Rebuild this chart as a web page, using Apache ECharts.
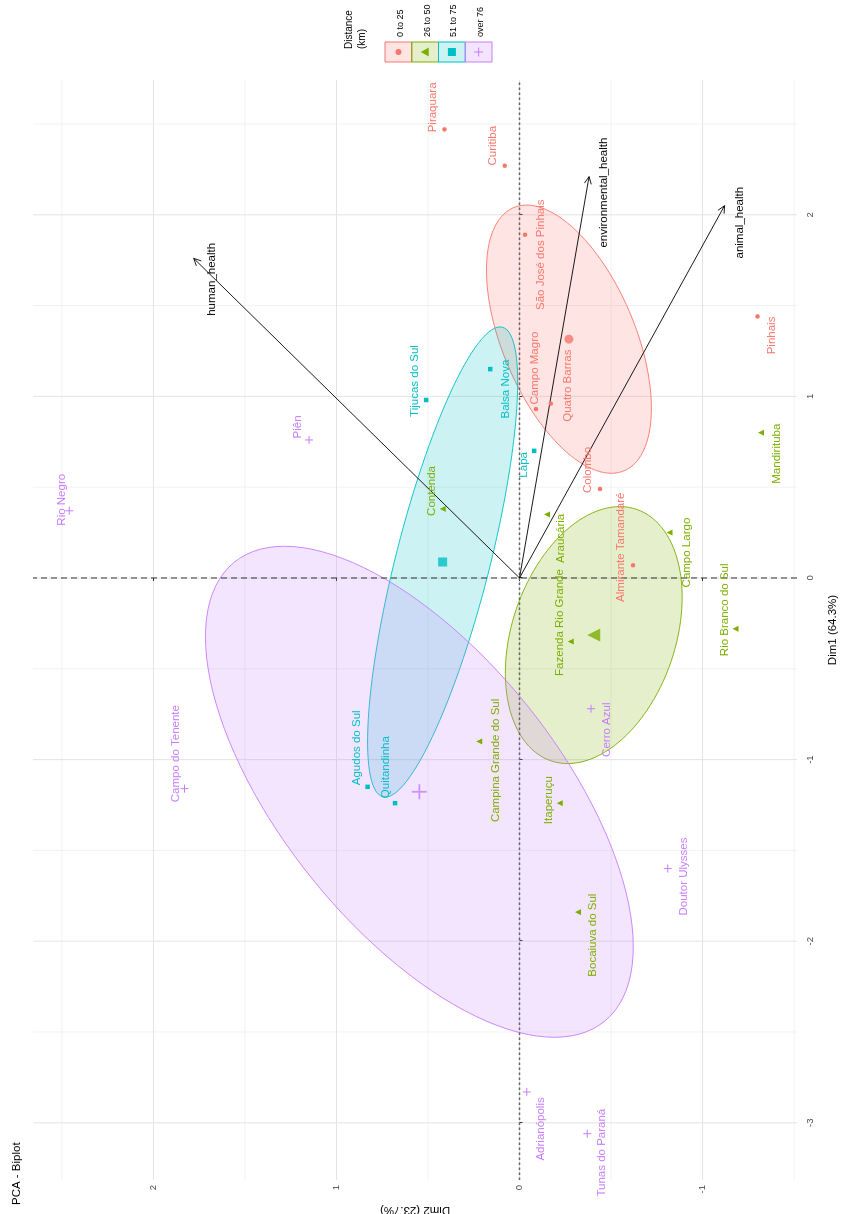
<!DOCTYPE html>
<html>
<head>
<meta charset="utf-8">
<title>PCA - Biplot</title>
<script src="https://cdn.jsdelivr.net/npm/echarts@6/dist/echarts.min.js"></script>
<style>
  html, body { margin: 0; padding: 0; width: 843px; height: 1214px; overflow: hidden; background: #fff; }
  /* the plot is laid out landscape and turned a quarter turn counter-clockwise */
  #chart { position: absolute; left: 0; top: 1214px; width: 1214px; height: 843px;
           transform-origin: 0 0; transform: rotate(-90deg); }
</style>
</head>
<body>
<div id="chart"></div>
<script>
// ---------- data ----------
const distanceClasses = ['0 to 25', '26 to 50', '51 to 75', 'over 76'];

const names0to25 = ['Piraquara', 'Curitiba', 'São José dos Pinhais', 'Pinhais', 'Campo Magro', 'Quatro Barras', 'Colombo', 'Almirante Tamandaré'];
const dim1_0to25 = [2.47, 2.27, 1.89, 1.44, 0.93, 0.96, 0.49, 0.07];
const dim2_0to25 = [0.41, 0.08, -0.03, -1.30, -0.09, -0.17, -0.44, -0.62];

const names26to50 = ['Contenda', 'Araucária', 'Fazenda Rio Grande', 'Campo Largo', 'Rio Branco do Sul', 'Mandirituba', 'Campina Grande do Sul', 'Itaperuçu', 'Bocaiuva do Sul'];
const dim1_26to50 = [0.38, 0.35, -0.35, 0.25, -0.28, 0.80, -0.90, -1.24, -1.84];
const dim2_26to50 = [0.42, -0.15, -0.28, -0.82, -1.18, -1.32, 0.22, -0.22, -0.32];

const names51to75 = ['Tijucas do Sul', 'Balsa Nova', 'Lapa', 'Agudos do Sul', 'Quitandinha'];
const dim1_51to75 = [0.98, 1.15, 0.70, -1.15, -1.24];
const dim2_51to75 = [0.51, 0.16, -0.08, 0.83, 0.68];

const namesOver76 = ['Rio Negro', 'Piên', 'Campo do Tenente', 'Cerro Azul', 'Doutor Ulysses', 'Adrianópolis', 'Tunas do Paraná'];
const dim1_over76 = [0.37, 0.76, -1.16, -0.72, -1.60, -2.83, -3.06];
const dim2_over76 = [2.46, 1.15, 1.83, -0.39, -0.81, -0.04, -0.37];

const variableNames = ['human_health', 'environmental_health', 'animal_health'];
const variableDim1 = [1.76, 2.21, 2.05];
const variableDim2 = [1.78, -0.38, -1.12];

const dim1Ticks = [-3, -2, -1, 0, 1, 2];
const dim2Ticks = [-1, 0, 1, 2];
const dim1MinorTicks = [-2.5, -1.5, -0.5, 0.5, 1.5, 2.5];
const dim2MinorTicks = [-1.5, -0.5, 0.5, 1.5, 2.5];

// ---------- styling ----------
const FONT = '"Liberation Sans", Arial, sans-serif';
const palette = ['#F8766D', '#7CAE00', '#00BFC4', '#C77CFF'];
const paleFill = ['rgba(248,118,109,0.2)', 'rgba(124,174,0,0.2)', 'rgba(0,191,196,0.2)', 'rgba(199,124,255,0.2)'];
const PLUS = 'path://M-0.12,-1H0.12V-0.12H1V0.12H0.12V1H-0.12V0.12H-1V-0.12H-0.12Z';
const pointSymbol = ['circle', 'triangle', 'rect', PLUS];
const pointSize = [4.5, 6, 4.5, 8];
const meanSize = [9, 13, 9, 15];
const dim1Range = [-3.315, 2.742];
const dim2Range = [-1.516, 2.658];

// label nudges in pixels (text placed clear of its point)
const labelNudge = {
  'Piraquara': [22, -12], 'Curitiba': [20, -12], 'São José dos Pinhais': [-20, 16], 'Pinhais': [-19, 14],
  'Campo Magro': [41, -1], 'Quatro Barras': [18, 17], 'Colombo': [19, -12], 'Almirante Tamandaré': [18, -12],
  'Contenda': [18, -11], 'Araucária': [-24, 14], 'Fazenda Rio Grande': [19, -11], 'Campo Largo': [-20, 17],
  'Rio Branco do Sul': [19, -11], 'Mandirituba': [-21, 16], 'Campina Grande do Sul': [-19, 17],
  'Itaperuçu': [3, -11], 'Bocaiuva do Sul': [-23, 15],
  'Tijucas do Sul': [19, -11], 'Balsa Nova': [-20, 16], 'Lapa': [-14, -10], 'Agudos do Sul': [39, -11], 'Quitandinha': [36, -9],
  'Rio Negro': [11, -7], 'Piên': [13, -11], 'Campo do Tenente': [35, -9], 'Cerro Azul': [-21, 16],
  'Doutor Ulysses': [-8, 16], 'Adrianópolis': [-37, 14], 'Tunas do Paraná': [-19, 15]
};
const varLabelNudge = {
  'human_health': [-21, 18], 'environmental_health': [-16, 15], 'animal_health': [-17, 15]
};

const groups = [
  { names: names0to25, d1: dim1_0to25, d2: dim2_0to25 },
  { names: names26to50, d1: dim1_26to50, d2: dim2_26to50 },
  { names: names51to75, d1: dim1_51to75, d2: dim2_51to75 },
  { names: namesOver76, d1: dim1_over76, d2: dim2_over76 }
];

const avg = a => a.reduce((s, v) => s + v, 0) / a.length;

// 95% confidence ellipse of a group mean
function confidenceEllipse(xs, ys, level, steps) {
  const n = xs.length, mx = avg(xs), my = avg(ys);
  let sxx = 0, syy = 0, sxy = 0;
  for (let i = 0; i < n; i++) {
    const dx = xs[i] - mx, dy = ys[i] - my;
    sxx += dx * dx; syy += dy * dy; sxy += dx * dy;
  }
  sxx /= (n - 1); syy /= (n - 1); sxy /= (n - 1);
  const r = Math.sqrt(-2 * Math.log(1 - level) / n);
  const a = Math.sqrt(sxx), b = sxy / a, c = Math.sqrt(Math.max(syy - b * b, 0));
  const ring = [];
  for (let k = 0; k < steps; k++) {
    const t = 2 * Math.PI * k / steps;
    ring.push([mx + r * a * Math.cos(t), my + r * (b * Math.cos(t) + c * Math.sin(t))]);
  }
  return ring;
}

const series = [];

// background grid
series.push({
  type: 'custom', z: 0, silent: true, data: [[0, 0]],
  renderItem: function (params, api) {
    const kids = [];
    const vline = (v, style) => {
      const p = api.coord([v, dim2Range[0]]), q = api.coord([v, dim2Range[1]]);
      kids.push({ type: 'line', shape: { x1: p[0], y1: p[1], x2: q[0], y2: q[1] }, style: style });
    };
    const hline = (v, style) => {
      const p = api.coord([dim1Range[0], v]), q = api.coord([dim1Range[1], v]);
      kids.push({ type: 'line', shape: { x1: p[0], y1: p[1], x2: q[0], y2: q[1] }, style: style });
    };
    const minor = { stroke: '#EFEFEF', lineWidth: 0.8 };
    const major = { stroke: '#E4E4E4', lineWidth: 1 };
    dim1MinorTicks.forEach(v => vline(v, minor));
    dim2MinorTicks.forEach(v => hline(v, minor));
    dim1Ticks.forEach(v => vline(v, major));
    dim2Ticks.forEach(v => hline(v, major));
    return { type: 'group', children: kids };
  }
});

// ellipses
groups.forEach((g, gi) => {
  const ring = confidenceEllipse(g.d1, g.d2, 0.95, 120);
  series.push({
    type: 'custom', z: 1, silent: true, data: [[avg(g.d1), avg(g.d2)]],
    renderItem: function (params, api) {
      return {
        type: 'polygon',
        shape: { points: ring.map(p => api.coord(p)) },
        style: { fill: paleFill[gi], stroke: palette[gi], lineWidth: 0.9 }
      };
    }
  });
});

// reference lines through the origin
series.push({
  type: 'custom', z: 2, silent: true, data: [[0, 0]],
  renderItem: function (params, api) {
    const a = api.coord([0, dim2Range[0]]), b = api.coord([0, dim2Range[1]]);
    const c = api.coord([dim1Range[0], 0]), d = api.coord([dim1Range[1], 0]);
    return { type: 'group', children: [
      { type: 'line', shape: { x1: a[0], y1: a[1], x2: b[0], y2: b[1] }, style: { stroke: '#333', lineWidth: 1, lineDash: [6, 4] } },
      { type: 'line', shape: { x1: c[0], y1: c[1], x2: d[0], y2: d[1] }, style: { stroke: '#666', lineWidth: 1.4, lineDash: [2.5, 2.5] } }
    ] };
  }
});

// variable arrows
series.push({
  type: 'custom', z: 3, silent: true,
  data: variableNames.map((n, i) => [variableDim1[i], variableDim2[i]]),
  renderItem: function (params, api) {
    const o = api.coord([0, 0]);
    const t = api.coord([api.value(0), api.value(1)]);
    const ang = Math.atan2(t[1] - o[1], t[0] - o[0]);
    const h = 8, spread = Math.PI / 7;
    const p1 = [t[0] - h * Math.cos(ang - spread), t[1] - h * Math.sin(ang - spread)];
    const p2 = [t[0] - h * Math.cos(ang + spread), t[1] - h * Math.sin(ang + spread)];
    const name = variableNames[params.dataIndex];
    const off = varLabelNudge[name];
    return { type: 'group', children: [
      { type: 'line', shape: { x1: o[0], y1: o[1], x2: t[0], y2: t[1] }, style: { stroke: '#000', lineWidth: 0.9 } },
      { type: 'polyline', shape: { points: [p1, t, p2] }, style: { stroke: '#000', fill: null, lineWidth: 0.9 } },
      { type: 'text', x: t[0] + off[0], y: t[1] + off[1],
        style: { text: name, fill: '#000', fontSize: 11.5, fontFamily: FONT, align: 'center', verticalAlign: 'middle' } }
    ] };
  }
});

// municipalities
groups.forEach((g, gi) => {
  series.push({
    type: 'scatter', z: 4, name: distanceClasses[gi],
    symbol: pointSymbol[gi], symbolSize: pointSize[gi],
    itemStyle: { color: palette[gi], opacity: 1 },
    label: { show: true, position: 'inside', formatter: '{b}', color: palette[gi],
             fontSize: 11.5, fontFamily: FONT, align: 'center', verticalAlign: 'middle' },
    data: g.names.map((n, i) => ({ name: n, value: [g.d1[i], g.d2[i]], label: { offset: labelNudge[n] || [0, -10] } }))
  });
});

// group means
series.push({
  type: 'scatter', z: 4, silent: true,
  data: groups.map((g, gi) => ({
    value: [avg(g.d1), avg(g.d2)],
    symbol: pointSymbol[gi], symbolSize: meanSize[gi],
    itemStyle: { color: palette[gi] }
  }))
});

// legend (keys show the ellipse fill with the point shape)
const legendItems = [];
legendItems.push({ type: 'text', left: 1165, top: 343,
  style: { text: 'Distance\n(km)', fill: '#000', fontSize: 10, fontFamily: FONT, lineHeight: 12.5 } });
distanceClasses.forEach((cls, i) => {
  const y0 = 385 + i * 26.75, cx = 1162, cy = y0 + 13.4;
  legendItems.push({ type: 'rect', shape: { x: 1152, y: y0, width: 20, height: 26.75 },
    style: { fill: paleFill[i], stroke: palette[i], lineWidth: 1 } });
  if (i === 0) legendItems.push({ type: 'circle', shape: { cx: cx, cy: cy, r: 3 }, style: { fill: palette[i] } });
  if (i === 1) legendItems.push({ type: 'polygon', shape: { points: [[cx, cy - 4.5], [cx + 4.5, cy + 3.5], [cx - 4.5, cy + 3.5]] }, style: { fill: palette[i] } });
  if (i === 2) legendItems.push({ type: 'rect', shape: { x: cx - 4, y: cy - 4, width: 8, height: 8 }, style: { fill: palette[i] } });
  if (i === 3) legendItems.push({ type: 'group', children: [
    { type: 'line', shape: { x1: cx - 4.5, y1: cy, x2: cx + 4.5, y2: cy }, style: { stroke: palette[i], lineWidth: 1 } },
    { type: 'line', shape: { x1: cx, y1: cy - 4.5, x2: cx, y2: cy + 4.5 }, style: { stroke: palette[i], lineWidth: 1 } }
  ] });
  legendItems.push({ type: 'text', x: 1177, y: cy + 2,
    style: { text: cls, fill: '#000', fontSize: 9, fontFamily: FONT, verticalAlign: 'middle' } });
});

const chart = echarts.init(document.getElementById('chart'), null, { renderer: 'canvas' });
chart.setOption({
  animation: false,
  backgroundColor: '#fff',
  textStyle: { fontFamily: FONT },
  title: { text: 'PCA - Biplot', left: 4, top: 6,
           textStyle: { fontSize: 11.5, fontWeight: 'normal', color: '#000', fontFamily: FONT } },
  grid: { left: 34, right: 80, top: 33, bottom: 46, outerBoundsMode: 'none', containLabel: false },
  xAxis: {
    type: 'value', min: dim1Range[0], max: dim1Range[1],
    name: 'Dim1 (64.3%)', nameLocation: 'middle', nameGap: 30,
    nameTextStyle: { fontSize: 11.5, color: '#000', fontFamily: FONT },
    axisLine: { show: false },
    axisTick: { show: true, length: 3, customValues: dim1Ticks, lineStyle: { color: '#333' } },
    axisLabel: { customValues: dim1Ticks, fontSize: 9.5, color: '#4D4D4D', margin: 8 },
    splitLine: { show: false }
  },
  yAxis: {
    type: 'value', min: dim2Range[0], max: dim2Range[1],
    name: 'Dim2 (23.7%)', nameLocation: 'middle', nameRotate: 90, nameGap: 13,
    nameTextStyle: { fontSize: 11.5, color: '#000', fontFamily: FONT },
    axisLine: { show: false },
    axisTick: { show: true, length: 3, customValues: dim2Ticks, lineStyle: { color: '#333' } },
    axisLabel: { customValues: dim2Ticks, fontSize: 9.5, color: '#4D4D4D', margin: 5 },
    splitLine: { show: false }
  },
  graphic: legendItems,
  series: series
});
</script>
</body>
</html>
